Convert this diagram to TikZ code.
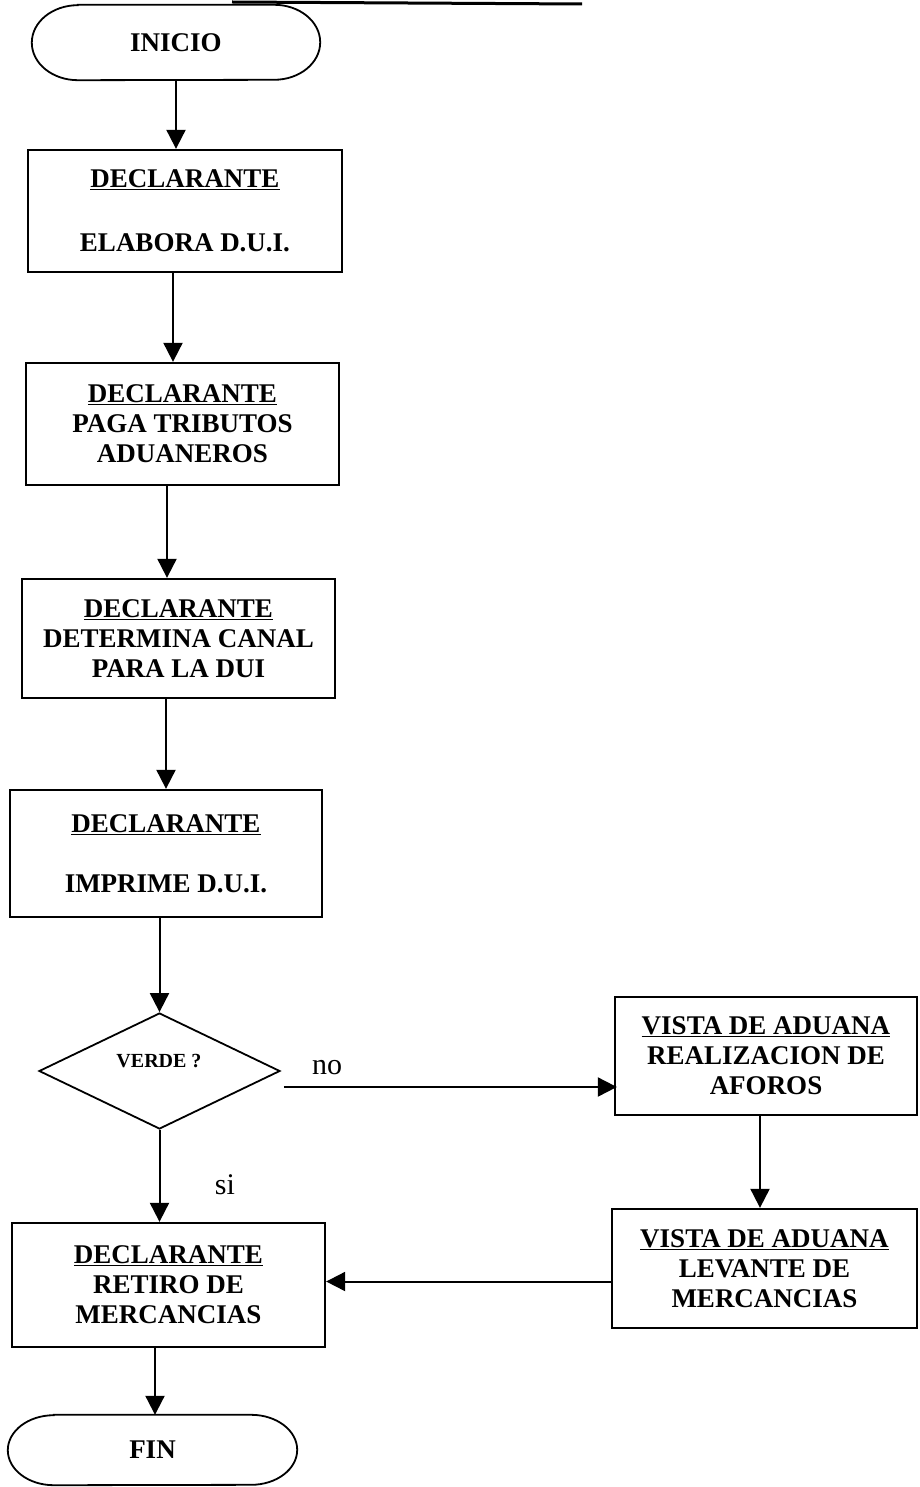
\documentclass[tikz,border=0pt]{standalone}
\usepackage{fontspec}
\setmainfont{Liberation Serif}
\usetikzlibrary{shapes.geometric,arrows.meta,calc}
\begin{document}
\begin{tikzpicture}[x=1pt,y=-1pt,
  every node/.style={inner sep=0pt},
  box/.style={draw,line width=2.3pt,align=center,font=\bfseries\fontsize{27}{30}\selectfont},
  term/.style={font=\bfseries\fontsize{27}{30}\selectfont},
  termline/.style={line width=1.8pt},
  arr/.style={line width=2pt,-{Triangle[length=19pt,width=19pt]}},
  lbl/.style={font=\fontsize{30}{34}\selectfont}]
\useasboundingbox (0,0) rectangle (919,1487);
\fill[white] (0,0) rectangle (919,1487);
% stray top rule
\draw[line width=3pt] (232,2) -- (582,4);
% nodes
\node[term,minimum width=288pt,minimum height=75pt] (ini) at (176,42.5) {INICIO};
\draw[termline] ([xshift=46pt]ini.north west) -- ([xshift=-46pt]ini.north east)
  arc[start angle=90,end angle=-90,x radius=46pt,y radius=37.5pt]
  -- ([xshift=46pt]ini.south west)
  arc[start angle=270,end angle=90,x radius=46pt,y radius=37.5pt] -- cycle;
\node[box,minimum width=314pt,minimum height=122pt] (b1) at (185,211) {\underline{DECLARANTE}\\[34pt]ELABORA D.U.I.};
\node[box,minimum width=313pt,minimum height=122pt] (b2) at (182.5,424) {\underline{DECLARANTE}\\PAGA TRIBUTOS\\ADUANEROS};
\node[box,minimum width=313pt,minimum height=119pt] (b3) at (178.5,638.5) {\underline{DECLARANTE}\\DETERMINA CANAL\\PARA LA DUI};
\node[box,minimum width=312pt,minimum height=127pt] (b4) at (166,853.5) {\underline{DECLARANTE}\\[30pt]IMPRIME D.U.I.};
\node[draw,diamond,line width=1.8pt,minimum width=241pt,minimum height=116pt] (dia) at (159.5,1071) {};
\node[font=\bfseries\fontsize{20}{24}\selectfont] (diat) at (159,1061) {VERDE ?};
\node[box,minimum width=302pt,minimum height=118pt] (r1) at (766,1056) {\underline{VISTA DE ADUANA}\\REALIZACION DE\\AFOROS};
\node[box,minimum width=305pt,minimum height=119pt] (r2) at (764.5,1268.5) {\underline{VISTA DE ADUANA}\\LEVANTE DE\\MERCANCIAS};
\node[box,minimum width=313pt,minimum height=124pt] (b5) at (168.5,1285) {\underline{DECLARANTE}\\RETIRO DE\\MERCANCIAS};
\node[term,minimum width=289pt,minimum height=70pt] (fin) at (152.5,1450) {FIN};
\draw[termline] ([xshift=46pt]fin.north west) -- ([xshift=-46pt]fin.north east)
  arc[start angle=90,end angle=-90,x radius=46pt,y radius=35pt]
  -- ([xshift=46pt]fin.south west)
  arc[start angle=270,end angle=90,x radius=46pt,y radius=35pt] -- cycle;
\node[lbl] (no) at (327,1068) {no};
\node[lbl] (si) at (225,1185) {si};
% connectors
\draw[arr] (ini.south) -- (ini.south |- b1.north);
\draw[arr] ([xshift=-12pt]b1.south) -- ([xshift=-12pt]b1.south |- b2.north);
\draw[arr] ([xshift=-15.5pt]b2.south) -- ([xshift=-15.5pt]b2.south |- b3.north);
\draw[arr] ([xshift=-12.5pt]b3.south) -- ([xshift=-12.5pt]b3.south |- b4.north);
\draw[arr] (b4.south -| dia.north) -- (dia.north);
\draw[arr] (dia.south) -- (dia.south |- b5.north);
\draw[arr] ([shift={(3pt,-16pt)}]dia.east) -- ([shift={(3pt,-16pt)}]dia.east -| r1.west);
\draw[arr] ([xshift=-6pt]r1.south) -- ([xshift=-6pt]r1.south |- r2.north);
\draw[arr] ([yshift=-13pt]r2.west) -- ([yshift=-13pt]r2.west -| b5.east);
\draw[arr] ([xshift=-13.5pt]b5.south) -- ([xshift=-13.5pt]b5.south |- fin.north);
\end{tikzpicture}
\end{document}
